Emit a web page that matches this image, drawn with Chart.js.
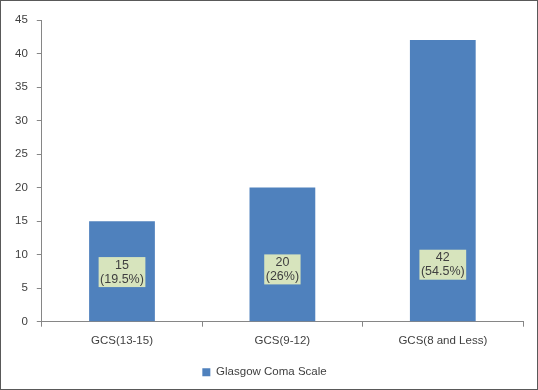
<!DOCTYPE html>
<html>
<head>
<meta charset="utf-8">
<script src="https://cdn.jsdelivr.net/npm/chart.js@4"></script>
<style>
  html, body { margin: 0; padding: 0; background: #fff; }
  #wrap { position: relative; width: 538px; height: 390px; }
  #frame { position: absolute; left: 0; top: 0; width: 536px; height: 388px; border: 1px solid #595959; pointer-events: none; }
  canvas { position: absolute; left: 0; top: 0; }
</style>
</head>
<body>
<div id="wrap">
  <canvas id="gcsChart" width="538" height="390"></canvas>
  <div id="frame"></div>
</div>
<script>
// Glasgow Coma Scale groups
const categories = ["GCS(13-15)", "GCS(9-12)", "GCS(8 and Less)"];
const patientCounts = [15, 20, 42];
const percentLabels = ["(19.5%)", "(26%)", "(54.5%)"];
const yTicks = [0, 5, 10, 15, 20, 25, 30, 35, 40, 45];
const labelLevels = [7.4, 7.8, 8.5]; // y value where each boxed label is centred

// draws the green boxes with count + percent inside each bar
const boxLabels = {
    id: "boxLabels",
    afterDatasetsDraw(chart) {
        const ctx = chart.ctx;
        const meta = chart.getDatasetMeta(0);
        ctx.save();
        ctx.font = "12.5px 'Liberation Sans', Arial, sans-serif";
        ctx.textAlign = "center";
        ctx.textBaseline = "middle";
        meta.data.forEach((bar, i) => {
            const y = chart.scales.y.getPixelForValue(labelLevels[i]);
            const line1 = String(patientCounts[i]);
            const line2 = percentLabels[i];
            const w = Math.max(ctx.measureText(line1).width, ctx.measureText(line2).width) + 3;
            const h = 30;
            ctx.fillStyle = "#d7e4bd";
            ctx.fillRect(bar.x - w / 2, y - h / 2, w, h);
            ctx.fillStyle = "#404040";
            ctx.fillText(line1, bar.x, y - 7);
            ctx.fillText(line2, bar.x, y + 7);
        });
        ctx.restore();
    }
};

Chart.defaults.font.family = "'Liberation Sans', Arial, sans-serif";
Chart.defaults.font.size = 11.5;
Chart.defaults.color = "#404040";

new Chart(document.getElementById("gcsChart").getContext("2d"), {
    type: "bar",
    data: {
        labels: categories,
        datasets: [{
            label: "Glasgow Coma Scale",
            data: patientCounts,
            backgroundColor: "#4f81bd",
            borderWidth: 0,
            barPercentage: 0.41,
            categoryPercentage: 1
        }]
    },
    options: {
        responsive: false,
        animation: false,
        layout: { padding: { left: 6, right: 15, top: 20, bottom: 2 } },
        plugins: {
            legend: {
                position: "bottom",
                labels: { boxWidth: 8, boxHeight: 8, padding: 12, color: "#404040" }
            },
            tooltip: { enabled: false }
        },
        scales: {
            x: {
                grid: { drawOnChartArea: false, offset: true, tickLength: 5, color: "#868686" },
                border: { color: "#868686" },
                ticks: { padding: 7 }
            },
            y: {
                min: 0,
                max: 45,
                afterBuildTicks: axis => { axis.ticks = yTicks.map(v => ({ value: v })); },
                grid: { drawOnChartArea: false, tickLength: 5, color: "#868686" },
                border: { color: "#868686" },
                ticks: { padding: 9 }
            }
        }
    },
    plugins: [boxLabels]
});
</script>
</body>
</html>
